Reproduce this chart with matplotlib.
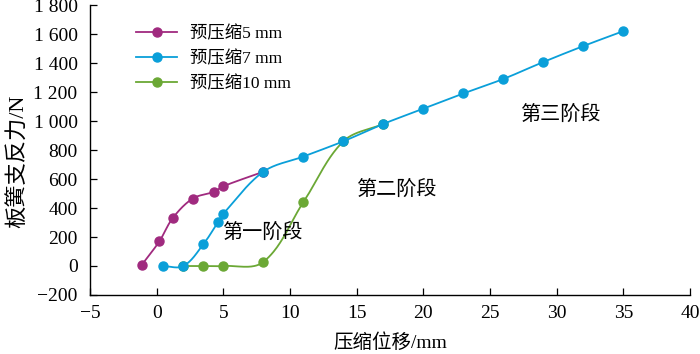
import numpy as np
import matplotlib
matplotlib.use("Agg")
import matplotlib.pyplot as plt
from matplotlib.ticker import FixedLocator

plt.rcParams['font.family'] = ['Liberation Serif', 'Noto Sans CJK SC']
plt.rcParams['axes.unicode_minus'] = True

series_names = ["预压缩5 mm", "预压缩7 mm", "预压缩10 mm"]
x5 = [-1.1, 0.2, 1.2, 2.7, 4.3, 5.0, 8.0]
y5 = [10, 170, 330, 465, 512, 550, 650]
x7 = [0.45, 2.0, 3.5, 4.6, 5.0, 8.0, 11.0, 14.0, 17.0, 20.0, 23.0, 26.0, 29.0, 32.0, 35.0]
y7 = [0, 0, 150, 303, 360, 650, 755, 860, 980, 1085, 1190, 1290, 1407, 1517, 1620]
x10 = [2.0, 3.5, 5.0, 8.0, 11.0, 14.0, 17.0]
y10 = [0, 0, 0, 28, 440, 860, 980]
colors = ["#A02A7F", "#0A9FD9", "#6BA835"]

stage_labels = ["第一阶段", "第二阶段", "第三阶段"]
stage_x = [7.9, 18.0, 30.3]
stage_y = [228, 524, 1041]

xticks = list(range(-5, 41, 5))
yticks = list(range(-200, 1801, 200))
ytick_labels = ["\u2212200", "0", "200", "400", "600", "800", "1 000", "1 200", "1 400", "1 600", "1 800"]

# pixel-space scale factors used only for shaping the smooth curves
SX, SY = 13.4, 0.145


def smooth(xs, ys, n=40):
    P = np.column_stack([np.asarray(xs, float) * SX, np.asarray(ys, float) * SY])
    m = len(P)
    T = []
    for i in range(m):
        a = P[max(i - 1, 0)]
        b = P[min(i + 1, m - 1)]
        d = b - a
        T.append(d / (np.linalg.norm(d) + 1e-12))
    T = np.array(T)
    t = np.linspace(0, 1, n)[:, None]
    out = []
    for i in range(m - 1):
        p1, p2 = P[i], P[i + 1]
        L = np.linalg.norm(p2 - p1)
        c1 = p1 + T[i] * L / 3.0
        c2 = p2 - T[i + 1] * L / 3.0
        seg = ((1 - t) ** 3) * p1 + 3 * ((1 - t) ** 2) * t * c1 + 3 * (1 - t) * t ** 2 * c2 + t ** 3 * p2
        out.append(seg if i == 0 else seg[1:])
    S = np.vstack(out)
    return S[:, 0] / SX, S[:, 1] / SY


fig = plt.figure(figsize=(7.0, 3.54), dpi=100)
ax = fig.add_axes([0.1286, 0.1667, 0.857, 0.819])

data = [(x5, y5), (x7, y7), (x10, y10)]
zorders = [3, 4, 2]
handles = []
for (xs, ys), c, name, z in zip(data, colors, series_names, zorders):
    sx, sy = smooth(xs, ys)
    ax.plot(sx, sy, color=c, lw=1.3, zorder=z)
    ax.plot(xs, ys, 'o', color=c, ms=6.5, zorder=z)
    h, = ax.plot([], [], '-o', color=c, lw=1.3, ms=6.5, label=name)
    handles.append(h)

for s, tx, ty in zip(stage_labels, stage_x, stage_y):
    ax.text(tx, ty, s, fontsize=14.5, ha='center', va='center')

ax.set_xlim(-5, 40)
ax.set_ylim(-200, 1800)
ax.xaxis.set_major_locator(FixedLocator(xticks))
ax.set_xticklabels([str(v) if v >= 0 else "\u2212" + str(-v) for v in xticks])
ax.yaxis.set_major_locator(FixedLocator(yticks))
ax.set_yticklabels(ytick_labels)
ax.tick_params(direction='in', length=5, width=0.9, labelsize=14, colors='black')
ax.tick_params(axis='x', pad=7)
ax.tick_params(axis='y', pad=9)
for sp in ['left', 'bottom']:
    ax.spines[sp].set_linewidth(1.0)
ax.spines['top'].set_visible(False)
ax.spines['right'].set_visible(False)
ax.set_xlabel("压缩位移/mm", fontsize=14, labelpad=8)
ax.set_ylabel("板簧支反力/N", fontsize=16)
ax.yaxis.label.set_va('center')
ax.yaxis.set_label_coords(-0.12, 0.462)

leg = ax.legend(handles=handles, loc='upper left', bbox_to_anchor=(0.0767, 0.93), frameon=False,
                fontsize=12.5, handlelength=2.36, handletextpad=0.75, labelspacing=0.5,
                borderaxespad=0, borderpad=0)

fig.savefig("out.png", dpi=100)
